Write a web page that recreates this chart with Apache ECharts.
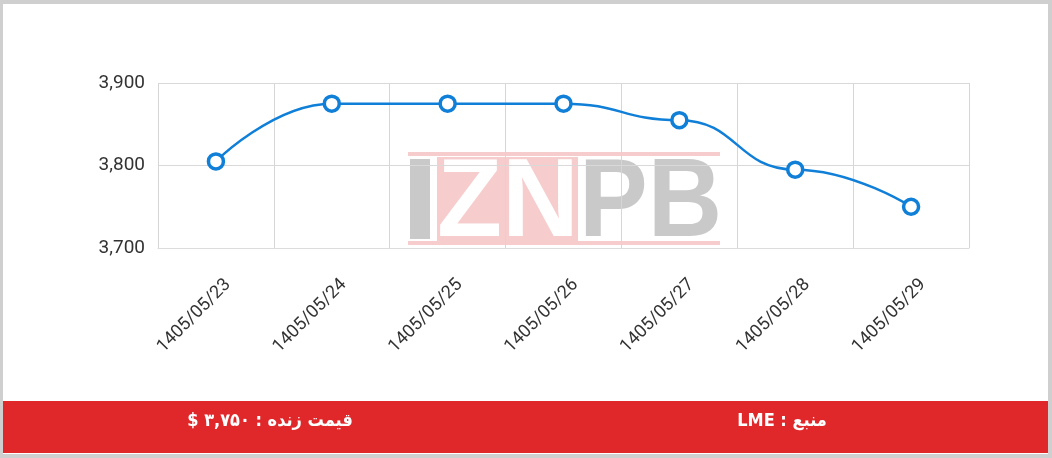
<!DOCTYPE html>
<html>
<head>
<meta charset="utf-8">
<script src="https://cdn.jsdelivr.net/npm/echarts@6/dist/echarts.min.js"></script>
<style>
html,body{margin:0;padding:0;background:#fff;}
#chart{width:1052px;height:458px;}
</style>
</head>
<body>
<div id="chart"></div>
<script>
const categories = ['1405/05/23','1405/05/24','1405/05/25','1405/05/26','1405/05/27','1405/05/28','1405/05/29'];
const prices = [3805, 3875, 3875, 3875, 3855, 3795, 3750];
const yTicks = { min: 3700, max: 3900, interval: 100 };
const footerLeft = '$ ۳,۷۵۰ : قیمت زنده';
const footerRight = 'LME : منبع';
const watermarkGray = 'PB';
const watermarkPink = 'ZN';

const chart = echarts.init(document.getElementById('chart'), null, {renderer:'canvas'});
chart.setOption({
  backgroundColor: '#cfcfcf',
  animation: false,
  grid: { left: 158, right: 83, top: 83, bottom: 210 },
  xAxis: {
    type: 'category',
    data: categories,
    boundaryGap: true,
    axisLine: { show: true, lineStyle: { color: '#dcdcdc' } },
    axisTick: { show: false },
    splitLine: { show: true, lineStyle: { color: '#d6d6d6', width: 1 } },
    axisLabel: { rotate: 45, color: '#333', fontSize: 18, fontFamily: 'Roboto', margin: 22, interval: 0,
      verticalAlign: 'top', padding: [8, 0, 0, 0] }
  },
  yAxis: {
    type: 'value',
    min: yTicks.min, max: yTicks.max, interval: yTicks.interval,
    axisLine: { show: false },
    axisTick: { show: false },
    splitLine: { lineStyle: { color: '#d9d9d9', width: 1 } },
    axisLabel: { color: '#333', fontSize: 19, fontFamily: 'Roboto', margin: 13,
      formatter: v => v.toLocaleString('en-US') }
  },
  graphic: [
    { type: 'rect', z: -20, silent: true, shape: { x: 3, y: 4, width: 1045, height: 450 }, style: { fill: '#ffffff' } },
    { type: 'group', z: -10, silent: true, children: [
      { type: 'rect', shape: { x: 408, y: 152, width: 312, height: 4 }, style: { fill: '#f6cccc' } },
      { type: 'rect', shape: { x: 408, y: 241, width: 312, height: 4 }, style: { fill: '#f6cccc' } },
      { type: 'rect', shape: { x: 437, y: 157, width: 141, height: 84 }, style: { fill: '#f6cccc' } },
      { type: 'rect', shape: { x: 410, y: 159, width: 20, height: 80 }, style: { fill: '#c9c9c9' } },
      { type: 'text', x: 437, y: 205, scaleX: 0.95, style: { text: watermarkPink, fill: '#ffffff', font: 'bold 112px "Liberation Sans"', verticalAlign: 'middle' } },
      { type: 'text', x: 579, y: 205, scaleX: 0.92, style: { text: watermarkGray, fill: '#c9c9c9', font: 'bold 112px "Liberation Sans"', verticalAlign: 'middle' } }
    ]},
    { type: 'rect', z: 10, silent: true, shape: { x: 3, y: 401, width: 1045, height: 52 }, style: { fill: '#e0282b' } },
    { type: 'text', z: 11, x: 270, y: 421, style: { text: footerLeft, fill: '#ffffff', font: 'bold 18px "DejaVu Sans Condensed", "DejaVu Sans"', align: 'center', verticalAlign: 'middle' } },
    { type: 'text', z: 11, x: 782, y: 421, style: { text: footerRight, fill: '#ffffff', font: 'bold 18px "DejaVu Sans Condensed", "DejaVu Sans"', align: 'center', verticalAlign: 'middle' } }
  ],
  series: [{
    type: 'line',
    data: prices,
    smooth: 0.5,
    smoothMonotone: 'x',
    symbol: 'circle',
    symbolSize: 15,
    lineStyle: { color: '#0f7fd8', width: 2.5 },
    itemStyle: { color: '#ffffff', borderColor: '#0f7fd8', borderWidth: 3.5 },
    z: 5
  }]
});
</script>
</body>
</html>
